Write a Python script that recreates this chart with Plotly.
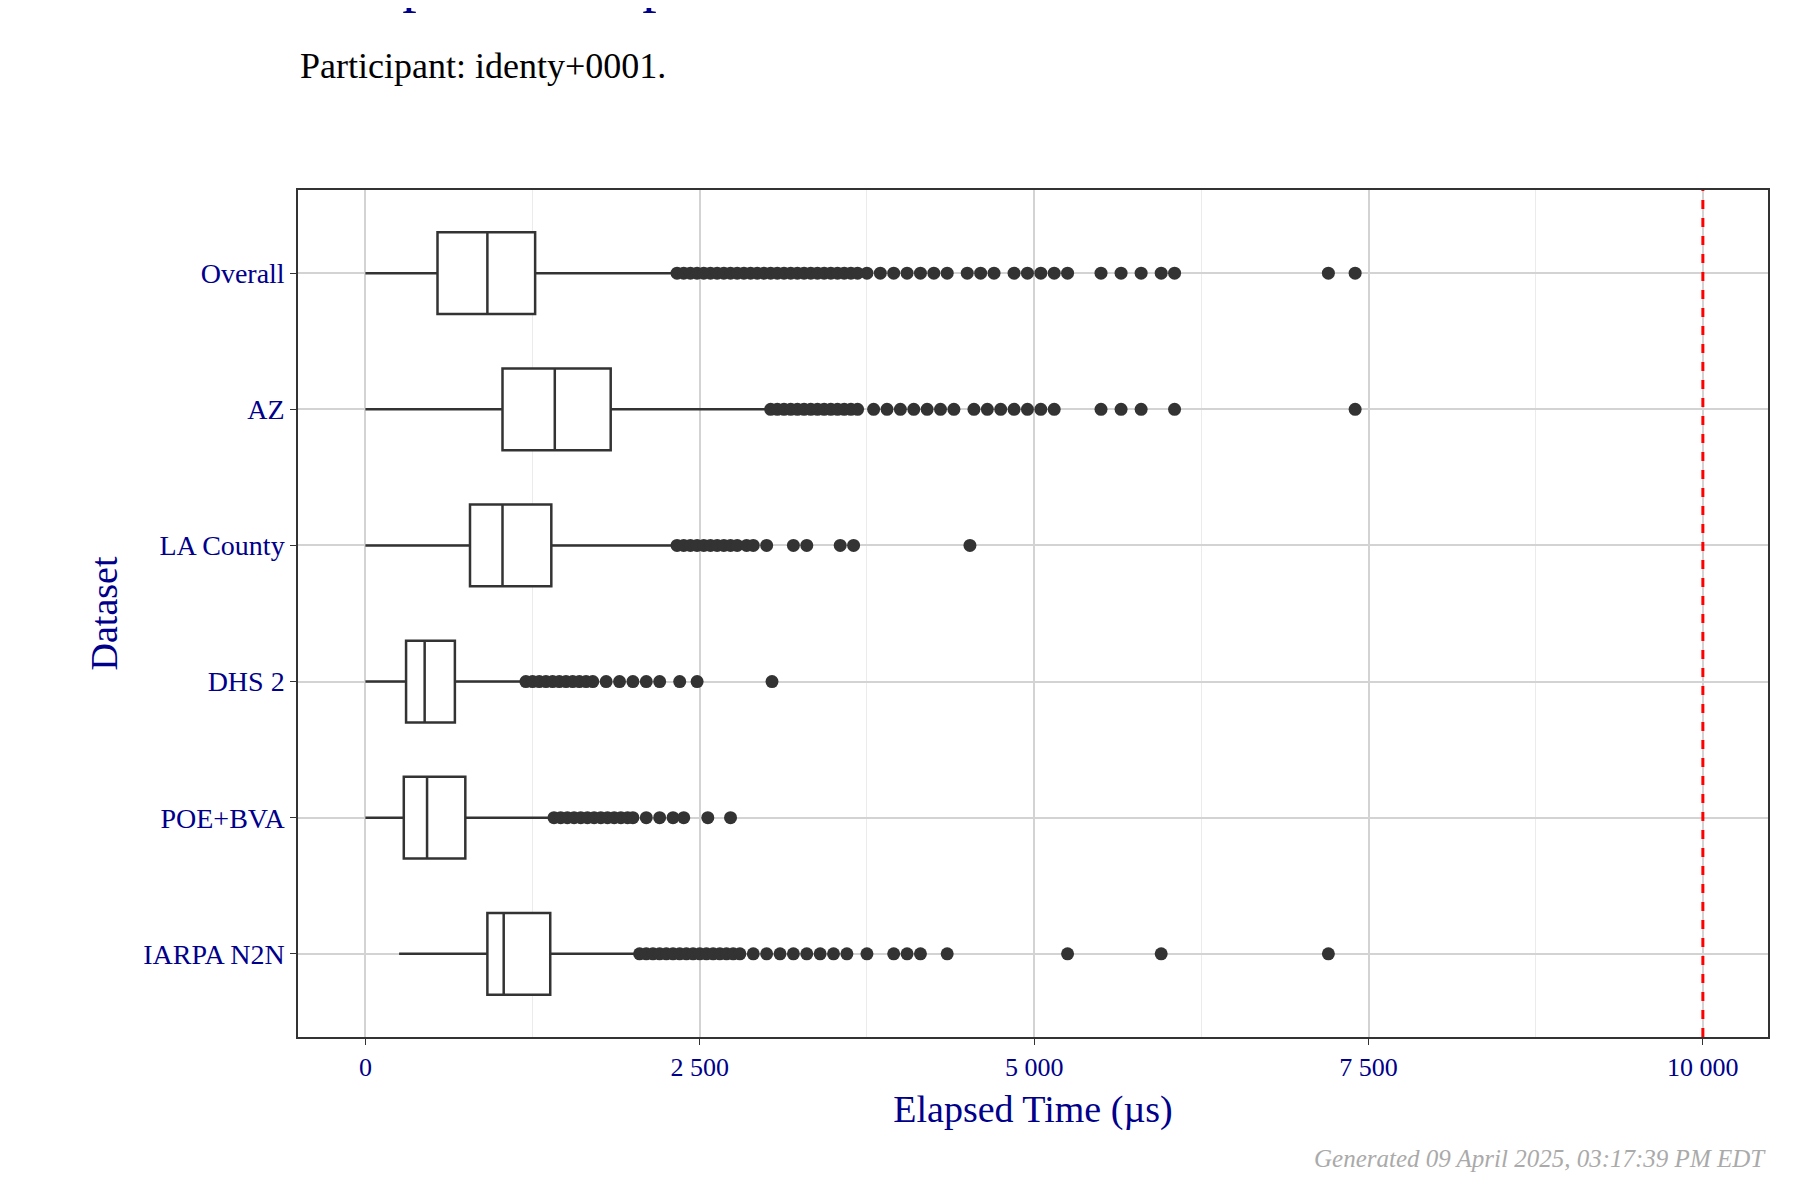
import plotly.graph_objects as go

datasets = ["Overall", "AZ", "LA County", "DHS 2", "POE+BVA", "IARPA N2N"]
lower = [0, 0, 0, 0, 0, 252]
q1 = [539, 1025, 782, 304, 287, 912]
median = [912, 1416, 1025, 443, 461, 1034]
q3 = [1269, 1834, 1390, 669, 747, 1382]
upper = [2320, 3015, 2320, 1190, 1399, 2042]

tick_values = [0, 2500, 5000, 7500, 10000]
tick_labels = ["0", "2 500", "5 000", "7 500", "10 000"]

outliers = {
    "Overall": [2330, 2380, 2430, 2480, 2530, 2580, 2630, 2680, 2730, 2780, 2830, 2880, 2930, 2980,
                3030, 3080, 3130, 3180, 3230, 3280, 3330, 3380, 3430, 3480, 3530, 3580, 3630, 3680,
                3750, 3850, 3950, 4050, 4150, 4250, 4350, 4500, 4600, 4700, 4850, 4950, 5050, 5150,
                5250, 5500, 5650, 5800, 5950, 6050, 7200, 7400],
    "AZ": [3030, 3080, 3130, 3180, 3230, 3280, 3330, 3380, 3430, 3480, 3530, 3580, 3630, 3680,
           3800, 3900, 4000, 4100, 4200, 4300, 4400, 4550, 4650, 4750, 4850, 4950, 5050, 5150,
           5500, 5650, 5800, 6050, 7400],
    "LA County": [2330, 2380, 2430, 2480, 2530, 2580, 2630, 2680, 2730, 2780, 2850, 2900, 3000,
                  3200, 3300, 3550, 3650, 4520],
    "DHS 2": [1200, 1250, 1300, 1350, 1400, 1450, 1500, 1550, 1600, 1650, 1700, 1800, 1900, 2000,
              2100, 2200, 2350, 2480, 3040],
    "POE+BVA": [1410, 1460, 1510, 1560, 1610, 1660, 1710, 1760, 1810, 1860, 1910, 1960, 2000,
                2100, 2200, 2300, 2380, 2560, 2730],
    "IARPA N2N": [2050, 2100, 2150, 2200, 2250, 2300, 2350, 2400, 2450, 2500, 2550, 2600, 2650,
                  2700, 2750, 2800, 2900, 3000, 3100, 3200, 3300, 3400, 3500, 3600, 3750, 3950,
                  4050, 4150, 4350, 5250, 5950, 7200],
}

serif = "Liberation Serif, serif"
navy = "#00008B"
dark = "#333333"

fig = go.Figure()
fig.add_trace(go.Box(
    y=datasets, orientation="h",
    q1=q1, median=median, q3=q3, lowerfence=lower, upperfence=upper,
    fillcolor="white", line=dict(color=dark, width=2.5), width=0.6, whiskerwidth=0,
    boxpoints=False, hoverinfo="x",
))
for name in datasets:
    fig.add_trace(go.Scatter(
        x=outliers[name], y=[name] * len(outliers[name]), mode="markers",
        marker=dict(color=dark, size=13), hoverinfo="x",
    ))

fig.add_vline(x=10000, line=dict(color="red", width=3, dash="dash"))

fig.update_layout(
    width=1800, height=1200, showlegend=False,
    plot_bgcolor="white", paper_bgcolor="white",
    margin=dict(l=290, r=40, t=182, b=171),
    font=dict(family=serif, color=navy),
    xaxis=dict(
        range=[-504, 10487], tickvals=tick_values, ticktext=tick_labels,
        showgrid=True, gridcolor="#d3d3d3", gridwidth=1.5,
        minor=dict(tickvals=[1250, 3750, 6250, 8750], showgrid=True, gridcolor="#ebebeb", gridwidth=1),
        zeroline=False, showline=True, linecolor=dark, mirror=True, linewidth=1.5,
        ticks="outside", tickcolor=dark, ticklen=6, tickfont=dict(size=26, color=navy),
        title=dict(text="Elapsed Time (µs)", font=dict(size=38, color=navy), standoff=14),
    ),
    yaxis=dict(
        autorange="reversed", categoryorder="array", categoryarray=datasets,
        showgrid=True, gridcolor="#d3d3d3", gridwidth=1.5,
        showline=True, linecolor=dark, mirror=True, linewidth=1.5,
        ticks="outside", tickcolor=dark, ticklen=6, tickfont=dict(size=28, color=navy),
        title=dict(text="Dataset", font=dict(size=38, color=navy), standoff=14),
    ),
    annotations=[
        dict(text="Template Comparison Time", xref="paper", yref="paper", x=0, y=1.205,
             xanchor="left", yanchor="bottom", showarrow=False, font=dict(size=58, color=navy)),
        dict(text="Participant: identy+0001.", xref="paper", yref="paper", x=0, y=1.12,
             xanchor="left", yanchor="bottom", showarrow=False, font=dict(size=36, color="black")),
        dict(text="<i>Generated 09 April 2025, 03:17:39 PM EDT</i>", xref="paper", yref="paper",
             x=1, y=-0.125, xanchor="right", yanchor="top", showarrow=False,
             font=dict(size=25, color="#aaaaaa")),
    ],
)

fig.write_html("out.html")
